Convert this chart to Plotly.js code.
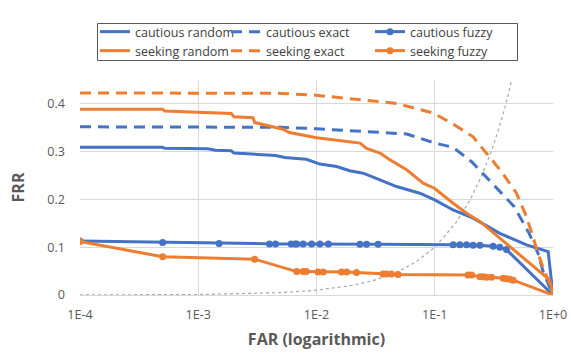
<!DOCTYPE html>
<html>
<head>
<meta charset="utf-8">
<script src="https://cdn.plot.ly/plotly-3.0.1.min.js"></script>
<style>html,body{margin:0;padding:0;background:#fff;}#chart{width:571px;height:364px;}</style>
</head>
<body>
<div id="chart"></div>
<script>
// ---- Data ----
const cautiousRandomFAR = [0.0001, 0.0005, 0.00052, 0.0012, 0.0014, 0.0019, 0.002, 0.003, 0.0045, 0.0054, 0.007, 0.0082, 0.0107, 0.0148, 0.0191, 0.0248, 0.0344, 0.0475, 0.0748, 0.1, 0.143, 0.211, 0.355, 0.597, 0.91, 0.975, 1];
const cautiousRandomFRR = [0.309, 0.309, 0.307, 0.306, 0.303, 0.302, 0.297, 0.294, 0.292, 0.288, 0.285, 0.284, 0.274, 0.269, 0.26, 0.255, 0.241, 0.227, 0.213, 0.199, 0.178, 0.161, 0.129, 0.105, 0.091, 0.015, 0];

const cautiousExactFAR = [0.0001, 0.001, 0.005, 0.01, 0.025, 0.058, 0.1, 0.143, 0.205, 0.274, 0.367, 0.47, 0.628, 0.748, 0.824, 0.92, 1];
const cautiousExactFRR = [0.352, 0.352, 0.351, 0.348, 0.342, 0.337, 0.318, 0.309, 0.279, 0.246, 0.213, 0.185, 0.129, 0.087, 0.049, 0.02, 0];

const cautiousFuzzyFAR = [0.0001, 0.0005, 0.0015, 0.004, 0.0045, 0.0061, 0.0066, 0.0068, 0.0077, 0.0091, 0.0107, 0.0126, 0.0233, 0.0265, 0.0332, 0.143, 0.163, 0.186, 0.211, 0.241, 0.312, 0.355, 0.404, 1];
const cautiousFuzzyFRR = [0.113, 0.110, 0.108, 0.107, 0.107, 0.107, 0.107, 0.107, 0.107, 0.107, 0.107, 0.107, 0.106, 0.106, 0.106, 0.105, 0.105, 0.105, 0.104, 0.104, 0.102, 0.100, 0.095, 0.0];

const seekingRandomFAR = [0.0001, 0.0005, 0.00052, 0.001, 0.0015, 0.0019, 0.002, 0.0029, 0.003, 0.004, 0.0052, 0.0059, 0.0069, 0.01, 0.0138, 0.0191, 0.0233, 0.0265, 0.0344, 0.0417, 0.0578, 0.0798, 0.1, 0.143, 0.186, 0.241, 0.355, 0.46, 0.679, 0.94, 1];
const seekingRandomFRR = [0.389, 0.389, 0.385, 0.383, 0.382, 0.380, 0.373, 0.371, 0.361, 0.354, 0.347, 0.340, 0.337, 0.329, 0.325, 0.321, 0.318, 0.307, 0.297, 0.283, 0.262, 0.234, 0.223, 0.192, 0.171, 0.154, 0.119, 0.094, 0.059, 0.031, 0];

const seekingExactFAR = [0.0001, 0.001, 0.005, 0.01, 0.0247, 0.0475, 0.097, 0.143, 0.211, 0.274, 0.367, 0.491, 0.578, 0.662, 0.744, 0.853, 0.977, 1];
const seekingExactFRR = [0.423, 0.423, 0.422, 0.418, 0.408, 0.401, 0.381, 0.358, 0.331, 0.297, 0.258, 0.213, 0.172, 0.130, 0.088, 0.048, 0.015, 0];

const seekingFuzzyFAR = [0.0001, 0.0005, 0.003, 0.0068, 0.0077, 0.0082, 0.0103, 0.0114, 0.0163, 0.018, 0.0218, 0.0366, 0.039, 0.043, 0.049, 0.191, 0.205, 0.241, 0.257, 0.274, 0.302, 0.379, 0.404, 0.431, 0.46, 1];
const seekingFuzzyFRR = [0.112, 0.080, 0.075, 0.049, 0.049, 0.049, 0.048, 0.048, 0.048, 0.048, 0.047, 0.044, 0.044, 0.044, 0.043, 0.042, 0.042, 0.038, 0.038, 0.037, 0.037, 0.035, 0.034, 0.033, 0.031, 0.0];

const diagonalFAR = [0.0001, 0.001, 0.005, 0.01, 0.02, 0.03, 0.05, 0.07, 0.1, 0.15, 0.2, 0.25, 0.3, 0.35, 0.4, 0.45, 0.5];
const diagonalFRR = [0.0001, 0.001, 0.005, 0.01, 0.02, 0.03, 0.05, 0.07, 0.1, 0.15, 0.2, 0.25, 0.3, 0.35, 0.4, 0.45, 0.5];

const xTickVals = [0.0001, 0.001, 0.01, 0.1, 1];
const xTickText = ['1E-4', '1E-3', '1E-2', '1E-1', '1E+0'];
const yTickVals = [0, 0.1, 0.2, 0.3, 0.4];
const yTickText = ['0', '0.1', '0.2', '0.3', '0.4'];

// ---- Styles ----
const BLUE = '#4472C4', ORANGE = '#ED7D31';
const LW = 3;
const DASH = '11px,7px';
const FONT = '"Open Sans", Lato, sans-serif';

const traces = [
  {x: diagonalFAR, y: diagonalFRR, mode: 'lines', line: {color: '#A6A6A6', width: 1.2, dash: 'dot'}, showlegend: false, hoverinfo: 'skip'},
  {name: 'cautious random', x: cautiousRandomFAR, y: cautiousRandomFRR, mode: 'lines', line: {color: BLUE, width: LW}, legend: 'legend'},
  {name: 'cautious exact', x: cautiousExactFAR, y: cautiousExactFRR, mode: 'lines', line: {color: BLUE, width: LW, dash: DASH}, legend: 'legend2'},
  {name: 'cautious fuzzy', x: cautiousFuzzyFAR, y: cautiousFuzzyFRR, mode: 'lines+markers', line: {color: BLUE, width: LW}, marker: {color: BLUE, size: 7}, legend: 'legend3'},
  {name: 'seeking random', x: seekingRandomFAR, y: seekingRandomFRR, mode: 'lines', line: {color: ORANGE, width: LW}, legend: 'legend4'},
  {name: 'seeking exact', x: seekingExactFAR, y: seekingExactFRR, mode: 'lines', line: {color: ORANGE, width: LW, dash: DASH}, legend: 'legend5'},
  {name: 'seeking fuzzy', x: seekingFuzzyFAR, y: seekingFuzzyFRR, mode: 'lines+markers', line: {color: ORANGE, width: LW}, marker: {color: ORANGE, size: 7}, legend: 'legend6'}
];

// plot area: x 80..553, y 80..295
const PL = 80, PR = 553, PT = 80, PB = 295;
const px2x = p => (p - PL) / (PR - PL);
const py2y = p => (PB - p) / (PB - PT);

function leg(leftPx, centerPy) {
  return {x: px2x(leftPx), y: py2y(centerPy), xanchor: 'left', yanchor: 'middle', orientation: 'h',
          bgcolor: 'rgba(0,0,0,0)', borderwidth: 0, font: {family: FONT, size: 12.5, color: '#404040'},
          itemwidth: 30, tracegroupgap: 0};
}

const layout = {
  width: 571, height: 364,
  margin: {l: PL, r: 571 - PR, t: PT, b: 364 - PB, autoexpand: false},
  paper_bgcolor: '#ffffff', plot_bgcolor: '#ffffff',
  font: {family: FONT, color: '#595959'},
  showlegend: true,
  legend: leg(95, 32),
  legend2: leg(226, 32),
  legend3: leg(370, 32),
  legend4: leg(95, 51),
  legend5: leg(226, 51),
  legend6: leg(370, 51),
  xaxis: {
    type: 'log', range: [-4, 0], tickvals: xTickVals, ticktext: xTickText,
    showgrid: true, gridcolor: '#D9D9D9', gridwidth: 1,
    showline: true, linecolor: '#D9D9D9', linewidth: 1, zeroline: false,
    ticks: '', ticklabelstandoff: 8,
    tickfont: {family: FONT, size: 12.6, color: '#595959'},
    title: {text: 'FAR (logarithmic)', font: {family: FONT, size: 16, color: '#595959', weight: 'bold'}, standoff: 11}
  },
  yaxis: {
    range: [0, 0.45], tickvals: yTickVals, ticktext: yTickText,
    showgrid: true, gridcolor: '#D9D9D9', gridwidth: 1,
    showline: false, zeroline: false,
    ticks: '', ticklabelstandoff: 14,
    tickfont: {family: FONT, size: 12.6, color: '#595959'},
    title: {text: 'FRR', font: {family: FONT, size: 16, color: '#595959', weight: 'bold'}, standoff: 18}
  },
  shapes: [
    {type: 'rect', xref: 'paper', yref: 'paper', x0: px2x(97.5), x1: px2x(517.5), y0: py2y(60.5), y1: py2y(23.5),
     line: {color: '#595959', width: 1}, fillcolor: 'rgba(0,0,0,0)', layer: 'above'}
  ]
};

Plotly.newPlot('chart', traces, layout, {displayModeBar: false, staticPlot: true});
</script>
</body>
</html>
